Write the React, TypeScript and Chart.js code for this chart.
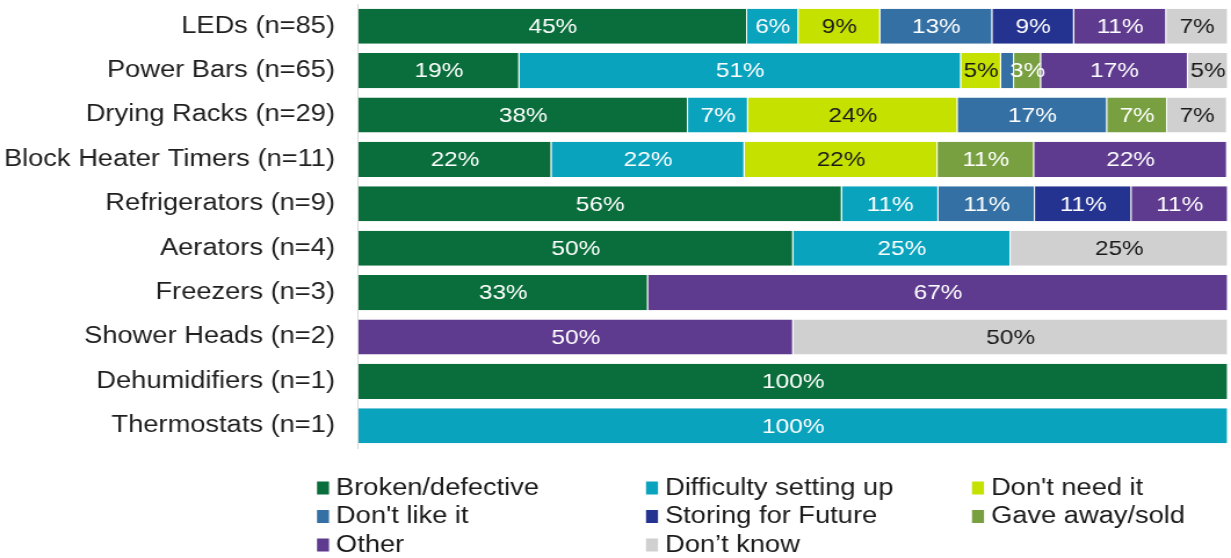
import React, { useEffect, useRef } from "react";
import { Chart, registerables } from "chart.js";

Chart.register(...registerables);

// ---- Data ----
const categories = [
  "LEDs (n=85)",
  "Power Bars (n=65)",
  "Drying Racks (n=29)",
  "Block Heater Timers (n=11)",
  "Refrigerators (n=9)",
  "Aerators (n=4)",
  "Freezers (n=3)",
  "Shower Heads (n=2)",
  "Dehumidifiers (n=1)",
  "Thermostats (n=1)",
];

const seriesNames = [
  "Broken/defective",
  "Difficulty setting up",
  "Don't need it",
  "Don't like it",
  "Storing for Future",
  "Gave away/sold",
  "Other",
  "Don\u2019t know",
];

const broken = [44.7, 18.5, 37.9, 22.2, 55.6, 50, 33.3, 0, 100, 0];
const difficulty = [5.9, 50.8, 6.9, 22.2, 11.1, 25, 0, 0, 0, 100];
const dontNeed = [9.4, 4.6, 24.1, 22.2, 0, 0, 0, 0, 0, 0];
const dontLike = [12.9, 1.5, 17.2, 0, 11.1, 0, 0, 0, 0, 0];
const storing = [9.4, 0, 0, 0, 11.1, 0, 0, 0, 0, 0];
const gaveAway = [0, 3.1, 6.9, 11.1, 0, 0, 0, 0, 0, 0];
const other = [10.6, 16.9, 0, 22.2, 11.1, 0, 66.7, 50, 0, 0];
const dontKnow = [7.1, 4.6, 6.9, 0, 0, 25, 0, 50, 0, 0];

const seriesValues = [broken, difficulty, dontNeed, dontLike, storing, gaveAway, other, dontKnow];

const seriesColors = [
  "#0a6e3c",
  "#0aa3be",
  "#c5e100",
  "#3470a3",
  "#24338f",
  "#78a040",
  "#5f3b8f",
  "#d0d0d0",
];
const labelColors = ["#ffffff", "#ffffff", "#1a1a1a", "#ffffff", "#ffffff", "#ffffff", "#ffffff", "#1a1a1a"];

// ---- Layout (canvas is drawn narrower then stretched horizontally) ----
const SCREEN_W = 1231;
const SCREEN_H = 558;
const INNER_W = 1061;
const SX = SCREEN_W / INNER_W;
const FONT = '"Liberation Sans", Arial, sans-serif';

const legendCols = [317 / SX, 646 / SX, 972 / SX];
const legendRows = [488, 516.5, 545];

const segLabelPlugin = {
  id: "segLabels",
  afterDatasetsDraw(chart: any) {
    const ctx = chart.ctx;
    ctx.save();
    ctx.font = `21px ${FONT}`;
    ctx.textAlign = "center";
    ctx.textBaseline = "middle";
    chart.data.datasets.forEach((ds: any, i: number) => {
      const meta = chart.getDatasetMeta(i);
      meta.data.forEach((el: any, j: number) => {
        const v = ds.data[j];
        if (!v || v < 2.5) return;
        const p = el.getProps(["x", "y", "base"], true);
        ctx.fillStyle = labelColors[i];
        ctx.fillText(Math.round(v) + "%", (p.x + p.base) / 2, p.y + 1);
      });
    });
    ctx.restore();
  },
};

const legendPlugin = {
  id: "gridLegend",
  afterDraw(chart: any) {
    const ctx = chart.ctx;
    ctx.save();
    ctx.font = `23.5px ${FONT}`;
    ctx.textAlign = "left";
    ctx.textBaseline = "alphabetic";
    chart.data.datasets.forEach((ds: any, i: number) => {
      const col = i % 3;
      const row = Math.floor(i / 3);
      const x = legendCols[col];
      const yc = legendRows[row];
      const sw = 12 / SX;
      ctx.fillStyle = ds.backgroundColor;
      ctx.fillRect(x, yc - 6.5, sw, 13);
      ctx.fillStyle = "#1a1a1a";
      ctx.fillText(ds.label, x + sw + 7 / SX, yc + 6.5);
    });
    ctx.restore();
  },
};

export default function App() {
  const canvasRef = useRef<HTMLCanvasElement | null>(null);

  useEffect(() => {
    const prevMargin = document.body.style.margin;
    document.body.style.margin = "0";
    const canvas = canvasRef.current;
    if (!canvas) return;
    const plotLeft = 358.5 / SX;
    const labelRight = 335 / SX;
    const plotRight = 1228 / SX;
    const chart = new Chart(canvas, {
      type: "bar",
      data: {
        labels: categories,
        datasets: seriesNames.map((name, i) => ({
          label: name,
          data: seriesValues[i],
          backgroundColor: seriesColors[i],
          borderColor: "rgba(255,255,255,0.75)",
          borderWidth: { top: 0, bottom: 0, left: 0, right: 1 },
          borderSkipped: false,
          barPercentage: 0.79,
          categoryPercentage: 1,
        })),
      },
      options: {
        indexAxis: "y",
        responsive: false,
        maintainAspectRatio: false,
        devicePixelRatio: 1,
        animation: false,
        layout: { padding: { top: 4, bottom: 110, left: 0, right: INNER_W - plotRight } },
        plugins: {
          legend: { display: false },
          tooltip: { enabled: false },
          title: { display: false },
        },
        scales: {
          x: {
            type: "linear",
            stacked: true,
            min: 0,
            max: 100,
            display: false,
          },
          y: {
            stacked: true,
            grid: { display: false, drawTicks: false },
            border: { display: true, color: "#d9d9d9", width: 1 },
            ticks: {
              color: "#1f1f1f",
              font: { family: FONT, size: 23.5 },
              padding: plotLeft - labelRight,
            },
            afterFit: (scale: any) => {
              scale.width = plotLeft;
              scale.paddingTop = 0;
              scale.paddingBottom = 0;
            },
          },
        },
      },
      plugins: [segLabelPlugin, legendPlugin],
    } as any);
    return () => {
      chart.destroy();
      document.body.style.margin = prevMargin;
    };
  }, []);

  return (
    <div style={{ position: "fixed", left: 0, top: 0, width: SCREEN_W, height: SCREEN_H, background: "#ffffff" }}>
      <canvas
        ref={canvasRef}
        width={INNER_W}
        height={SCREEN_H}
        style={{ width: `${SCREEN_W}px`, height: `${SCREEN_H}px`, display: "block" }}
      />
    </div>
  );
}
